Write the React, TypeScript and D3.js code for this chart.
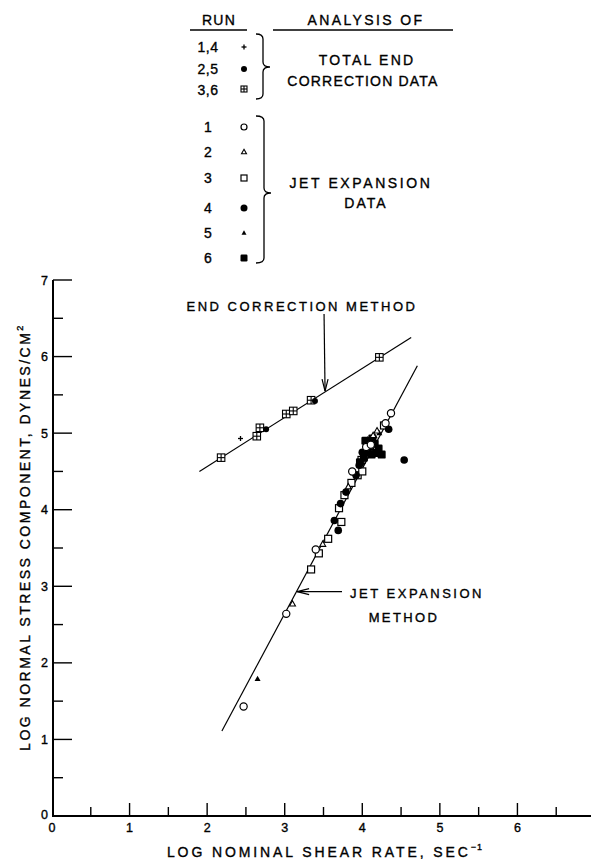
import React from "react";
import * as d3 from "d3";

// ---- data (log shear rate, log normal stress) ----
// Total end correction data
const ecPlusX = [2.43];
const ecPlusY = [4.93];
const ecDotX = [2.76, 3.39];
const ecDotY = [5.05, 5.42];
const ecSqX = [2.18, 2.64, 2.68, 3.02, 3.11, 3.34, 4.22];
const ecSqY = [4.68, 4.96, 5.07, 5.25, 5.29, 5.43, 5.99];

// Jet expansion data
const run1X = [2.47, 3.02, 3.40, 3.87, 4.05, 4.11, 4.30, 4.37];
const run1Y = [1.43, 2.64, 3.48, 4.50, 4.82, 4.85, 5.13, 5.26];
const run2X = [3.10, 3.49, 4.19, 4.14, 3.82];
const run2Y = [2.77, 3.55, 5.03, 4.97, 4.30];
const run3X = [3.34, 3.44, 3.56, 3.73, 3.70, 3.77, 3.86, 3.94, 4.00, 3.99, 4.28];
const run3Y = [3.22, 3.43, 3.62, 3.84, 4.02, 4.19, 4.35, 4.45, 4.50, 4.65, 5.10];
const run4X = [3.69, 3.64, 3.72, 3.79, 3.92, 3.96, 4.00, 4.54, 4.34];
const run4Y = [3.73, 3.86, 4.08, 4.23, 4.45, 4.58, 4.75, 4.65, 5.05];
const run5X = [2.65, 4.07, 4.16, 4.22];
const run5Y = [1.79, 4.92, 4.96, 5.00];
const run6X = [4.02, 4.07, 4.12, 4.18, 4.25, 4.10, 4.16, 3.97, 4.21, 4.04, 4.13];
const run6Y = [4.68, 4.75, 4.72, 4.74, 4.72, 4.83, 4.86, 4.62, 4.80, 4.90, 4.93];

// fitted lines
const endLineX = [1.9, 4.63];
const endLineY = [4.5, 6.25];
const jetLineX = [2.19, 4.71];
const jetLineY = [1.11, 5.88];

const xTicks = d3.range(0.5, 7.01, 0.5);
const yTicks = d3.range(0.5, 7.01, 0.5);
const xTickLabels = ["0", "1", "2", "3", "4", "5", "6"];
const yTickLabels = ["0", "1", "2", "3", "4", "5", "6", "7"];

const legendTop = ["1,4", "2,5", "3,6"];
const legendBottom = ["1", "2", "3", "4", "5", "6"];

const W = 591;
const H = 859;
const FONT = "'Liberation Sans', Arial, sans-serif";

const x = d3.scaleLinear().domain([0, 7]).range([52, 595]);
const y = d3.scaleLinear().domain([0, 7]).range([816, 280]);

const zip = (xs: number[], ys: number[]) => xs.map((v, i) => [v, ys[i]] as [number, number]);

const tri = (cx: number, cy: number, s: number) => {
  const h = s * 0.9;
  return `M${cx},${cy - h * 0.6}L${cx + s / 2},${cy + h * 0.4}L${cx - s / 2},${cy + h * 0.4}Z`;
};

function OpenCircle({ cx, cy, r = 3.6 }: any) {
  return <circle cx={cx} cy={cy} r={r} fill="white" stroke="black" strokeWidth={1.2} />;
}
function FilledCircle({ cx, cy, r = 3.8 }: any) {
  return <circle cx={cx} cy={cy} r={r} fill="black" />;
}
function OpenTri({ cx, cy, s = 6 }: any) {
  return <path d={tri(cx, cy, s)} fill="white" stroke="black" strokeWidth={1.1} />;
}
function FilledTri({ cx, cy, s = 6 }: any) {
  return <path d={tri(cx, cy, s)} fill="black" />;
}
function OpenSq({ cx, cy, s = 7 }: any) {
  return <rect x={cx - s / 2} y={cy - s / 2} width={s} height={s} fill="white" stroke="black" strokeWidth={1.2} />;
}
function FilledSq({ cx, cy, s = 8 }: any) {
  return <rect x={cx - s / 2} y={cy - s / 2} width={s} height={s} rx={1.2} fill="black" />;
}
function CrossSq({ cx, cy, s = 7.5 }: any) {
  return (
    <g stroke="black" strokeWidth={1.1}>
      <rect x={cx - s / 2} y={cy - s / 2} width={s} height={s} fill="white" />
      <line x1={cx - s / 2} x2={cx + s / 2} y1={cy} y2={cy} />
      <line x1={cx} x2={cx} y1={cy - s / 2} y2={cy + s / 2} />
    </g>
  );
}
function Plus({ cx, cy, s = 5 }: any) {
  return (
    <g stroke="black" strokeWidth={1.3}>
      <line x1={cx - s / 2} x2={cx + s / 2} y1={cy} y2={cy} />
      <line x1={cx} x2={cx} y1={cy - s / 2} y2={cy + s / 2} />
    </g>
  );
}

function brace(x0: number, x1: number, xt: number, yt: number, ym: number, yb: number) {
  const r = 5;
  return `M${x0},${yt} Q${x1},${yt} ${x1},${yt + r} L${x1},${ym - r} Q${x1},${ym} ${xt},${ym} Q${x1},${ym} ${x1},${ym + r} L${x1},${yb - r} Q${x1},${yb} ${x0},${yb}`;
}

export default function App() {
  const line = d3
    .line<[number, number]>()
    .x((d) => x(d[0]))
    .y((d) => y(d[1]));

  // arrow positions
  const endTipX = x(3.52);
  const endTipY = y(5.55);
  const jetTipX = x(3.16);
  const jetTipY = y(2.93);

  const topRows = [47, 69, 90];
  const botRows = [127, 152, 178, 208, 233, 258];
  const lx = 208;
  const sx = 244;
  const ts = { stroke: "black", strokeWidth: 0.35 } as any;

  return (
    <svg
      width={W}
      height={H}
      style={{ position: "absolute", left: 0, top: 0, background: "white" }}
      fontFamily={FONT}
    >
      <rect width={W} height={H} fill="white" />

      {/* ---- legend ---- */}
      <g fill="black" fontSize={14} {...ts}>
        <text x={219} y={25} textAnchor="middle" letterSpacing={1.2}>RUN</text>
        <text x={366} y={25} textAnchor="middle" letterSpacing={2.4}>ANALYSIS OF</text>
        {legendTop.map((t, i) => (
          <text key={t} x={lx} y={topRows[i] + 5} textAnchor="middle" letterSpacing={0.5}>{t}</text>
        ))}
        {legendBottom.map((t, i) => (
          <text key={t} x={lx} y={botRows[i] + 5} textAnchor="middle">{t}</text>
        ))}
        <text x={367} y={65} textAnchor="middle" letterSpacing={2.2}>TOTAL END</text>
        <text x={363} y={86} textAnchor="middle" letterSpacing={1.2}>CORRECTION  DATA</text>
        <text x={361} y={188} textAnchor="middle" letterSpacing={2.6}>JET  EXPANSION</text>
        <text x={366} y={208} textAnchor="middle" letterSpacing={2}>DATA</text>
      </g>
      <line x1={190} x2={247} y1={30} y2={30} stroke="black" strokeWidth={1.3} />
      <line x1={273} x2={453} y1={30} y2={30} stroke="black" strokeWidth={1.3} />
      <Plus cx={sx} cy={topRows[0]} s={5} />
      <FilledCircle cx={sx} cy={topRows[1]} r={3} />
      <CrossSq cx={sx} cy={topRows[2] - 1} s={6} />
      <OpenCircle cx={sx} cy={botRows[0]} r={3} />
      <OpenTri cx={sx} cy={botRows[1]} s={5} />
      <OpenSq cx={sx} cy={botRows[2]} s={6} />
      <FilledCircle cx={sx} cy={botRows[3]} r={3.5} />
      <FilledTri cx={sx} cy={botRows[4]} s={5} />
      <FilledSq cx={sx} cy={botRows[5]} s={7} />
      <path d={brace(256, 263, 270, 34, 67, 99)} fill="none" stroke="black" strokeWidth={1.3} />
      <path d={brace(256, 264, 271, 116, 193, 263)} fill="none" stroke="black" strokeWidth={1.3} />

      {/* ---- axes ---- */}
      <line x1={x(0) + 1} x2={x(0) + 1} y1={y(7)} y2={y(0)} stroke="black" strokeWidth={2} />
      <line x1={x(0)} x2={W} y1={y(0)} y2={y(0)} stroke="black" strokeWidth={2} />
      {yTicks.map((t) => {
        const major = Math.abs(t - Math.round(t)) < 1e-6;
        return (
          <line key={"yt" + t} x1={x(0) + 1} x2={x(0) + 1 + (major ? 19 : 10)} y1={y(t)} y2={y(t)} stroke="black" strokeWidth={1.4} />
        );
      })}
      {xTicks.map((t) => {
        const major = Math.abs(t - Math.round(t)) < 1e-6;
        return (
          <line key={"xt" + t} x1={x(t)} x2={x(t)} y1={y(0)} y2={y(0) - (major ? 13 : 9)} stroke="black" strokeWidth={1.4} />
        );
      })}
      <g fontSize={12.5} fill="black" {...ts}>
        {yTickLabels.map((t, i) => (
          <text key={"yl" + t} x={48} y={y(i) + (i === 0 ? 3 : 4.5)} textAnchor="end">{t}</text>
        ))}
        {xTickLabels.map((t, i) => (
          <text key={"xl" + t} x={x(i)} y={832} textAnchor="middle">{t}</text>
        ))}
      </g>
      <text x={325} y={857} textAnchor="middle" fontSize={14} letterSpacing={2.9} fill="black" {...ts}>
        LOG NOMINAL SHEAR RATE, SEC
        <tspan fontSize={9} dy={-7} letterSpacing={1}>−1</tspan>
      </text>
      <text
        transform="translate(30,537) rotate(-90)"
        textAnchor="middle"
        fontSize={14}
        letterSpacing={2.5}
        fill="black"
        {...ts}
      >
        LOG NORMAL STRESS COMPONENT, DYNES/CM
        <tspan fontSize={9} dy={-7}>2</tspan>
      </text>

      {/* ---- fitted lines ---- */}
      <path d={line(zip(endLineX, endLineY)) || ""} fill="none" stroke="black" strokeWidth={1.2} />
      <path d={line(zip(jetLineX, jetLineY)) || ""} fill="none" stroke="black" strokeWidth={1.2} />

      {/* ---- annotations ---- */}
      <text x={302} y={311} textAnchor="middle" fontSize={13} letterSpacing={2.5} fill="black" {...ts}>
        END  CORRECTION  METHOD
      </text>
      <g stroke="black" strokeWidth={1.2} fill="none">
        <line x1={endTipX - 1} x2={endTipX} y1={314} y2={endTipY} />
        <path d={`M${endTipX - 3},${endTipY - 12} L${endTipX},${endTipY} L${endTipX + 3},${endTipY - 12}`} />
        <line x1={342} x2={jetTipX} y1={jetTipY} y2={jetTipY} />
        <path d={`M${jetTipX + 12},${jetTipY - 3} L${jetTipX},${jetTipY} L${jetTipX + 12},${jetTipY + 3}`} />
      </g>
      <text x={417} y={598} textAnchor="middle" fontSize={13} letterSpacing={2.5} fill="black" {...ts}>
        JET  EXPANSION
      </text>
      <text x={404} y={622} textAnchor="middle" fontSize={13} letterSpacing={2.4} fill="black" {...ts}>
        METHOD
      </text>

      {/* ---- end correction points ---- */}
      {zip(ecSqX, ecSqY).map((d, i) => <CrossSq key={"es" + i} cx={x(d[0])} cy={y(d[1])} />)}
      {zip(ecDotX, ecDotY).map((d, i) => <FilledCircle key={"ed" + i} cx={x(d[0])} cy={y(d[1])} r={3} />)}
      {zip(ecPlusX, ecPlusY).map((d, i) => <Plus key={"ep" + i} cx={x(d[0])} cy={y(d[1])} />)}

      {/* ---- jet expansion points ---- */}
      {zip(run3X, run3Y).map((d, i) => <OpenSq key={"r3" + i} cx={x(d[0])} cy={y(d[1])} />)}
      {zip(run6X, run6Y).map((d, i) => <FilledSq key={"r6" + i} cx={x(d[0])} cy={y(d[1])} />)}
      {zip(run4X, run4Y).map((d, i) => <FilledCircle key={"r4" + i} cx={x(d[0])} cy={y(d[1])} />)}
      {zip(run5X, run5Y).map((d, i) => <FilledTri key={"r5" + i} cx={x(d[0])} cy={y(d[1])} />)}
      {zip(run2X, run2Y).map((d, i) => <OpenTri key={"r2" + i} cx={x(d[0])} cy={y(d[1])} />)}
      {zip(run1X, run1Y).map((d, i) => <OpenCircle key={"r1" + i} cx={x(d[0])} cy={y(d[1])} />)}
    </svg>
  );
}
